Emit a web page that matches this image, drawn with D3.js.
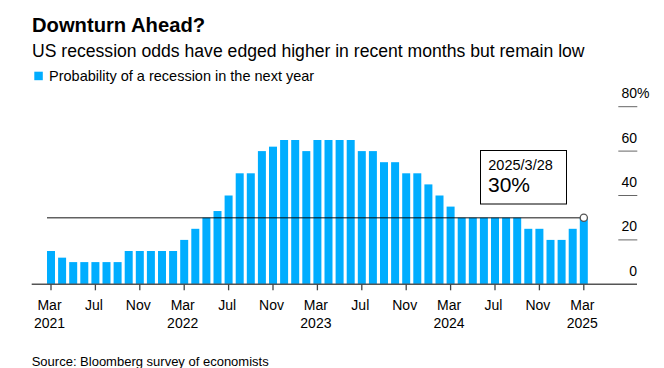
<!DOCTYPE html>
<html>
<head>
<meta charset="utf-8">
<script src="https://cdn.jsdelivr.net/npm/d3@7"></script>
<style>
  html, body { margin: 0; padding: 0; background: #fff; }
  svg { display: block; font-family: "Liberation Sans", Arial, sans-serif; }
</style>
</head>
<body>
<svg id="chart" width="664" height="368"></svg>
<script>
const months = [
  "2021-03","2021-04","2021-05","2021-06","2021-07","2021-08","2021-09","2021-10","2021-11","2021-12",
  "2022-01","2022-02","2022-03","2022-04","2022-05","2022-06","2022-07","2022-08","2022-09","2022-10","2022-11","2022-12",
  "2023-01","2023-02","2023-03","2023-04","2023-05","2023-06","2023-07","2023-08","2023-09","2023-10","2023-11","2023-12",
  "2024-01","2024-02","2024-03","2024-04","2024-05","2024-06","2024-07","2024-08","2024-09","2024-10","2024-11","2024-12",
  "2025-01","2025-02","2025-03"
];
const probability = [
  15,12,10,10,10,10,10,15,15,15,
  15,15,20,25,30,33,40,50,50,60,62,65,
  65,60,65,65,65,65,60,60,55,55,50,50,
  45,40,35,30,30,30,30,30,30,25,25,20,
  20,25,30
];
const yTicks = [0, 20, 40, 60, 80];
const xTickMonths = ["2021-03","2021-07","2021-11","2022-03","2022-07","2022-11","2023-03","2023-07","2023-11","2024-03","2024-07","2024-11","2025-03"];
const monthNames = {"03":"Mar","07":"Jul","11":"Nov"};
const latest = { label: "2025/3/28", value: 30, month: "2025-03" };

const title = "Downturn Ahead?";
const subtitle = "US recession odds have edged higher in recent months but remain low";
const legendLabel = "Probability of a recession in the next year";
const source = "Source: Bloomberg survey of economists";

const svg = d3.select("#chart");
const barColor = "#00adff";

const x = d3.scaleBand()
  .domain(months)
  .range([45.45, 45.45 + 49 * 11.1])
  .paddingInner(0.28)
  .paddingOuter(0.14);

const y = d3.scaleLinear().domain([0, 80]).range([284.3, 106.7]);

// Title, subtitle, legend
svg.append("text").attr("x", 32).attr("y", 31.5)
  .attr("font-size", 20.2).attr("font-weight", "bold").attr("fill", "#000").text(title);
svg.append("text").attr("x", 32).attr("y", 56.5)
  .attr("font-size", 17.6).attr("fill", "#000").text(subtitle);
svg.append("rect").attr("x", 34.3).attr("y", 71.7).attr("width", 8.5).attr("height", 8.5).attr("fill", barColor);
svg.append("text").attr("x", 49).attr("y", 81)
  .attr("font-size", 14.5).attr("fill", "#000").text(legendLabel);

// Right axis
const yAxisG = svg.append("g");
yTicks.forEach(t => {
  if (t > 0) {
    yAxisG.append("line")
      .attr("x1", 618.3).attr("x2", 637.3)
      .attr("y1", y(t)).attr("y2", y(t))
      .attr("stroke", "#666").attr("stroke-width", 1);
  }
  yAxisG.append("text")
    .attr("x", 637).attr("y", y(t) - 8.5)
    .attr("text-anchor", "end").attr("font-size", 14).attr("fill", "#000")
    .text(t);
  if (t === 80) {
    yAxisG.append("text").attr("x", 637).attr("y", y(t) - 8.5)
      .attr("font-size", 14).attr("fill", "#000").text("%");
  }
});

// Bars
svg.append("g").selectAll("rect")
  .data(months.map((m, i) => ({ m, v: probability[i] })))
  .join("rect")
  .attr("x", d => x(d.m))
  .attr("width", x.bandwidth())
  .attr("y", d => y(d.v))
  .attr("height", d => y(0) - y(d.v))
  .attr("fill", barColor);

// Baseline + x ticks
svg.append("line").attr("x1", 31.7).attr("x2", 637).attr("y1", y(0)).attr("y2", y(0))
  .attr("stroke", "#555").attr("stroke-width", 1.5);

const xg = svg.append("g");
xTickMonths.forEach(m => {
  const cx = x(m) + x.bandwidth() / 2;
  xg.append("line").attr("x1", cx).attr("x2", cx).attr("y1", y(0)).attr("y2", y(0) + 6)
    .attr("stroke", "#444").attr("stroke-width", 1.3);
  const [yr, mo] = m.split("-");
  xg.append("text").attr("x", cx - 1.5).attr("y", 310).attr("text-anchor", "middle")
    .attr("font-size", 14).attr("fill", "#000").text(monthNames[mo]);
  if (mo === "03") {
    xg.append("text").attr("x", cx - 1.5).attr("y", 328).attr("text-anchor", "middle")
      .attr("font-size", 14).attr("fill", "#000").text(yr);
  }
});

// Reference line and marker
const lx = x(latest.month) + x.bandwidth() / 2;
svg.append("line")
  .attr("x1", x(months[0]) ).attr("x2", lx)
  .attr("y1", y(latest.value)).attr("y2", y(latest.value))
  .attr("stroke", "#000").attr("stroke-opacity", 0.62).attr("stroke-width", 1.6);
svg.append("circle").attr("cx", lx).attr("cy", y(latest.value)).attr("r", 3.6)
  .attr("fill", "#fff").attr("stroke", "#555").attr("stroke-width", 1.3);

// Annotation box
svg.append("rect").attr("x", 480.5).attr("y", 150.5).attr("width", 86).attr("height", 53.5)
  .attr("fill", "#fff").attr("stroke", "#000").attr("stroke-width", 1);
svg.append("text").attr("x", 488.3).attr("y", 170).attr("font-size", 14.5).attr("fill", "#000").text(latest.label);
svg.append("text").attr("x", 488).attr("y", 192.3).attr("font-size", 21).attr("fill", "#000").text(latest.value + "%");

// Source
svg.append("text").attr("x", 31.7).attr("y", 366).attr("font-size", 13).attr("fill", "#000").text(source);
</script>
</body>
</html>
